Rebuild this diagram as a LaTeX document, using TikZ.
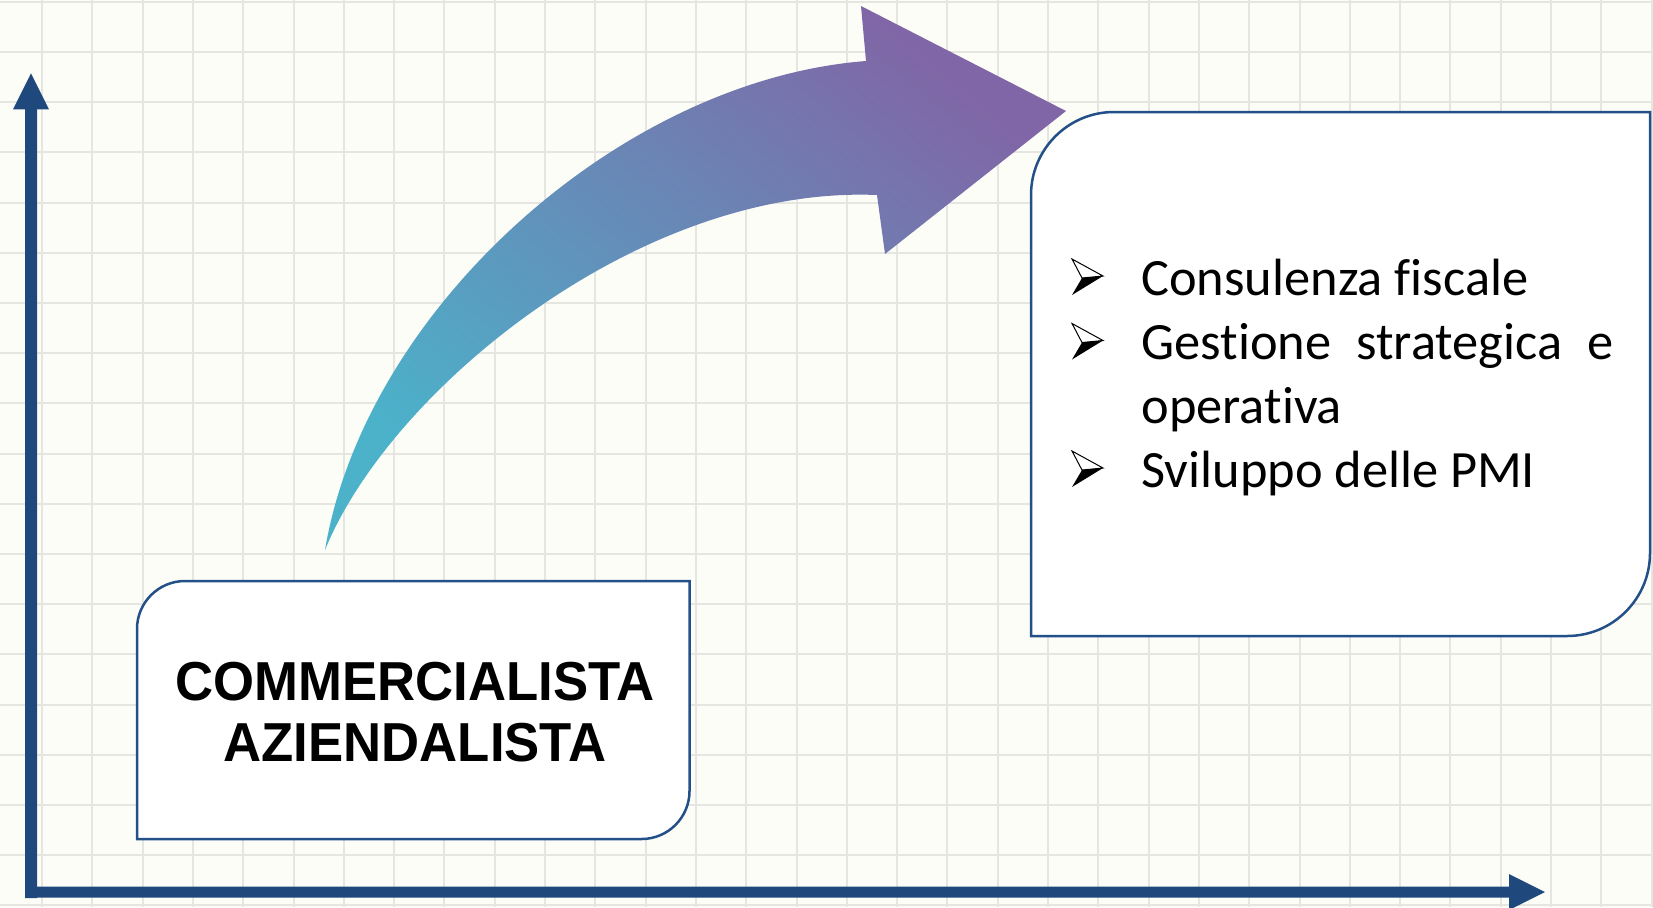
\documentclass[tikz,border=0pt]{standalone}
\usepackage{fontspec}
\newfontfamily\headfont[FakeStretch=0.96]{Liberation Sans}
\newfontfamily\listfont[Ligatures={NoCommon}]{Carlito}
\definecolor{bgcol}{HTML}{FDFDF8}
\definecolor{gridcol}{HTML}{E5E5E1}
\definecolor{axiscol}{HTML}{1F497D}
\definecolor{boxline}{HTML}{24508A}
\definecolor{arrteal}{HTML}{4BB2CA}
\definecolor{arrpurple}{HTML}{8066A6}
\tikzset{
  gridline/.style={draw=gridcol, line width=1pt},
  axisfill/.style={fill=axiscol},
  boxframe/.style={draw=boxline, fill=white, line width=1.25pt},
  headtext/.style={font=\headfont\bfseries\fontsize{27.45pt}{30pt}\selectfont, inner sep=0pt, anchor=base},
  listtext/.style={font=\listfont\fontsize{26.2pt}{30pt}\selectfont, inner sep=0pt, anchor=base west},
  bulletmark/.pic={
    \filldraw[fill=white, draw=black, line width=0.5pt, line join=miter] (0,-36) -- (31,-19) -- (10,-17) -- cycle;
    \fill[black] (10,-17) -- (31,-19) -- (0,0) -- cycle;
  }
}
\begin{document}
\begin{tikzpicture}[x=0.5pt,y=-0.5pt]
\useasboundingbox (0,0) rectangle (1653,907);
\fill[bgcol] (0,0) rectangle (1653,907);
% grid
\foreach \k in {0,...,32} \draw[gridline] ({42+50.3*\k},0) -- ({42+50.3*\k},907);
\foreach \k in {0,...,18} \draw[gridline] (0,{1.8+50.2*\k}) -- (1653,{1.8+50.2*\k});
% axes
\fill[axisfill] (25,898) -- (25,109.3) -- (13,109.3) -- (31,73.3) -- (49,109.3) -- (37,109.3) -- (37,898) -- cycle;
\fill[axisfill] (25,886.5) -- (1509,886.5) -- (1509,874) -- (1545,892) -- (1509,910) -- (1509,897.5) -- (25,897.5) -- cycle;
% curved arrow
\shade[bottom color=arrteal, top color=arrpurple, shading angle=-40]
  (325,550) .. controls (365,310) and (620,80) .. (866,61) -- (861,6) -- (1066,111) -- (885,254) -- (877,195)
  .. controls (640,185) and (390,390) .. (325,550) -- cycle;
% small box
\draw[boxframe] (137,839) -- (137,629) .. controls (137,602.5) and (158.5,581) .. (185,581) -- (689.5,581)
  -- (689.5,791) .. controls (689.5,817.5) and (668,839) .. (641.5,839) -- cycle;
\node[headtext] (t1) at (415,700) {COMMERCIALISTA};
\node[headtext] (t2) at (415,761.7) {AZIENDALISTA};
% big box
\draw[boxframe] (1031,636) -- (1031,195) .. controls (1031,149.2) and (1068.2,112) .. (1114,112) -- (1650,112)
  -- (1650,553) .. controls (1650,598.8) and (1612.8,636) .. (1567,636) -- cycle;
\pic at (1072,295) {bulletmark};
\pic at (1072,359.5) {bulletmark};
\pic at (1072,487) {bulletmark};
\node[listtext] (l1) at (1141,295) {Consulenza fiscale};
\node[listtext] (l2) at (1141,359.5) {\makebox[236pt][s]{Gestione strategica e}};
\node[listtext] (l3) at (1141,423.5) {operativa};
\node[listtext] (l4) at (1141,487) {Sviluppo delle PMI};
\end{tikzpicture}
\end{document}
